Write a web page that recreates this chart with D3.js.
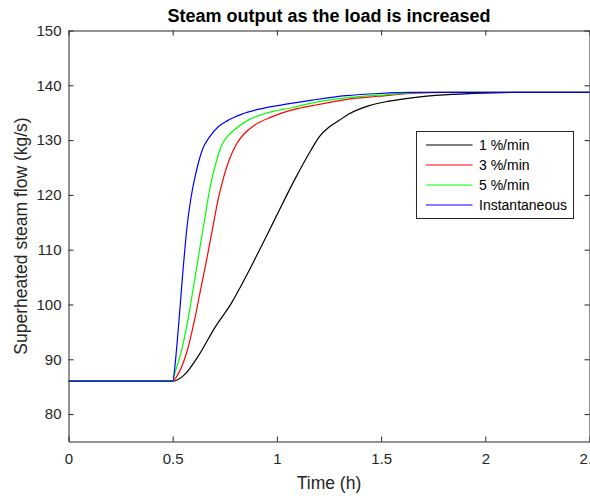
<!DOCTYPE html>
<html>
<head>
<meta charset="utf-8">
<script src="https://cdn.jsdelivr.net/npm/d3@7"></script>
<style>
  body { margin: 0; background: #fff; }
  svg { font-family: "Liberation Sans", Arial, sans-serif; display: block; }
</style>
</head>
<body>
<script>
// series: time in hours, superheated steam flow in kg/s
var seriesNames = ['1 %/min', '3 %/min', '5 %/min', 'Instantaneous'];
var seriesColors = ['#000000', '#ff0000', '#00ff00', '#0000ff'];

var time1 = [0, 0.5, 0.557, 0.621, 0.701, 0.781, 0.868, 0.908, 0.988, 1.084, 1.164, 1.203, 1.251, 1.299, 1.347, 1.443, 1.538, 1.666, 1.778, 1.937, 2.16, 2.5];
var flow1 = [86, 86, 87.2, 90.5, 95.7, 100.2, 106.3, 109.3, 115.4, 122.7, 128.2, 130.6, 132.4, 133.6, 134.8, 136.3, 137.1, 137.8, 138.2, 138.5, 138.7, 138.7];

var time3 = [0, 0.5, 0.518, 0.566, 0.605, 0.637, 0.665, 0.693, 0.717, 0.745, 0.773, 0.805, 0.844, 0.892, 0.972, 1.084, 1.171, 1.331, 1.49, 1.65, 1.8, 2.5];
var flow3 = [86, 86, 86.8, 91.1, 97.2, 103.3, 108.6, 114.2, 119.0, 123.3, 126.6, 129.2, 131.2, 132.7, 134.2, 135.6, 136.3, 137.4, 138.0, 138.5, 138.7, 138.7];

var time5 = [0, 0.5, 0.51, 0.542, 0.573, 0.597, 0.613, 0.629, 0.65, 0.669, 0.685, 0.709, 0.729, 0.749, 0.797, 0.86, 0.94, 1.084, 1.171, 1.331, 1.49, 1.65, 1.75, 2.5];
var flow5 = [86, 86, 87.4, 91.5, 97.2, 102.6, 106.3, 110.0, 114.8, 119.2, 122.4, 126.0, 128.5, 130.0, 131.9, 133.6, 134.8, 136.0, 136.8, 137.7, 138.2, 138.6, 138.7, 138.7];

var timeInst = [0, 0.5, 0.51, 0.52, 0.53, 0.54, 0.55, 0.56, 0.57, 0.585, 0.6, 0.621, 0.645, 0.677, 0.717, 0.765, 0.829, 0.908, 1.004, 1.084, 1.171, 1.331, 1.49, 1.65, 2.5];
var flowInst = [86, 86, 88.5, 92.5, 97, 101.8, 106.5, 110.8, 114.6, 118.8, 122, 125.5, 128.5, 130.6, 132.4, 133.6, 134.7, 135.6, 136.3, 136.8, 137.3, 138.1, 138.5, 138.7, 138.7];

var xTicks = [0, 0.5, 1, 1.5, 2, 2.5];
var yTicks = [80, 90, 100, 110, 120, 130, 140, 150];

var width = 590, height = 496;
var plotLeft = 68.5, plotRight = 589.5, plotTop = 30.5, plotBottom = 441.5;
var axisColor = '#262626';

var x = d3.scaleLinear().domain([0, 2.5]).range([plotLeft, plotRight]);
var y = d3.scaleLinear().domain([75, 150]).range([plotBottom, plotTop]);

var svg = d3.select('body').append('svg')
  .attr('width', width)
  .attr('height', height);

// series
var allSeries = [
  {t: time1, v: flow1},
  {t: time3, v: flow3},
  {t: time5, v: flow5},
  {t: timeInst, v: flowInst}
];

var line = d3.line()
  .x(function(d){ return x(d[0]); })
  .y(function(d){ return y(d[1]); })
  .curve(d3.curveMonotoneX);

svg.append('clipPath').attr('id', 'plotclip')
  .append('rect')
  .attr('x', plotLeft).attr('y', plotTop)
  .attr('width', plotRight - plotLeft).attr('height', plotBottom - plotTop);

svg.append('g').attr('clip-path', 'url(#plotclip)')
  .selectAll('path')
  .data(allSeries)
  .enter()
  .append('path')
  .attr('d', function(s){ return line(d3.zip(s.t, s.v)); })
  .attr('fill', 'none')
  .attr('stroke', function(s, i){ return seriesColors[i]; })
  .attr('stroke-width', 1.2);

// axes, ticks pointing inward like matlab
function styleAxis(g){
  g.select('.domain').attr('stroke', axisColor);
  g.selectAll('.tick line').attr('stroke', axisColor);
  g.selectAll('.tick text').attr('fill', axisColor).style('font-size', '15px');
}

svg.append('g')
  .attr('transform', 'translate(0,' + plotBottom + ')')
  .call(d3.axisBottom(x).tickValues(xTicks).tickFormat(d3.format('')).tickSize(-5).tickSizeOuter(0).tickPadding(12))
  .call(styleAxis);

svg.append('g')
  .attr('transform', 'translate(0,' + plotTop + ')')
  .call(d3.axisTop(x).tickValues(xTicks).tickFormat('').tickSize(-5).tickSizeOuter(0))
  .call(styleAxis);

svg.append('g')
  .attr('transform', 'translate(' + plotLeft + ',0)')
  .call(d3.axisLeft(y).tickValues(yTicks).tickSize(-5).tickSizeOuter(0).tickPadding(7))
  .call(styleAxis);

svg.append('g')
  .attr('transform', 'translate(' + plotRight + ',0)')
  .call(d3.axisRight(y).tickValues(yTicks).tickFormat('').tickSize(-5).tickSizeOuter(0))
  .call(styleAxis);

// title and labels
svg.append('text')
  .attr('x', (plotLeft + plotRight) / 2)
  .attr('y', 21.5)
  .attr('text-anchor', 'middle')
  .style('font-size', '18px')
  .style('font-weight', 'bold')
  .attr('fill', '#000')
  .text('Steam output as the load is increased');

svg.append('text')
  .attr('x', (plotLeft + plotRight) / 2)
  .attr('y', 489)
  .attr('text-anchor', 'middle')
  .style('font-size', '17.5px')
  .attr('fill', axisColor)
  .text('Time (h)');

svg.append('text')
  .attr('transform', 'translate(27,' + (plotTop + plotBottom) / 2 + ') rotate(-90)')
  .attr('text-anchor', 'middle')
  .style('font-size', '17.5px')
  .attr('fill', axisColor)
  .text('Superheated steam flow (kg/s)');

// legend
var legend = svg.append('g').attr('transform', 'translate(416.5,131.5)');
legend.append('rect')
  .attr('width', 157).attr('height', 87)
  .attr('fill', '#fff')
  .attr('stroke', axisColor);

var rows = legend.selectAll('g.row')
  .data(seriesNames)
  .enter()
  .append('g')
  .attr('class', 'row')
  .attr('transform', function(d, i){ return 'translate(0,' + (13.5 + i * 20) + ')'; });

rows.append('line')
  .attr('x1', 9.5).attr('x2', 56)
  .attr('stroke', function(d, i){ return seriesColors[i]; })
  .attr('stroke-width', 1);

rows.append('text')
  .attr('x', 62.5)
  .attr('dy', '0.35em')
  .style('font-size', '14px')
  .attr('fill', '#000')
  .text(function(d){ return d; });
</script>
</body>
</html>
